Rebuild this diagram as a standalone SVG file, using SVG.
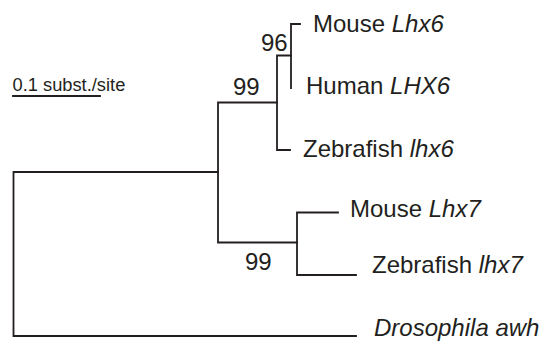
<svg xmlns="http://www.w3.org/2000/svg" width="544" height="346" viewBox="0 0 544 346">
<style>
.br{fill:none;stroke:#231f20;stroke-width:1.8;stroke-linecap:square;stroke-linejoin:miter}
text{font-family:"Liberation Sans",Arial,sans-serif;fill:#231f20;font-size:24px}
.sc{font-size:18.3px}
.i{font-style:italic}
</style>
<rect width="544" height="346" fill="#fff"/>
<g id="connectors">
<path class="br" d="M218,172 H13.5 V336 H356"/>
<path class="br" d="M277,102.5 H218 V242.5 H297"/>
<path class="br" d="M291,55.5 H277 V150 H290"/>
<path class="br" d="M300,24 H291 V88"/>
<path class="br" d="M338,212.5 H297 V275 H356"/>
</g>
<g id="scale">
<line class="br" x1="13" y1="96" x2="100" y2="96"/>
<text class="sc" x="12.5" y="91">0.1 subst./site</text>
</g>
<g id="mouse-lhx6"><text x="313" y="32">Mouse <tspan class="i">Lhx6</tspan></text></g>
<g id="human-lhx6"><text x="306" y="94">Human <tspan class="i">LHX6</tspan></text></g>
<g id="zebrafish-lhx6"><text x="303" y="157">Zebrafish <tspan class="i">lhx6</tspan></text></g>
<g id="mouse-lhx7"><text x="350" y="217">Mouse <tspan class="i">Lhx7</tspan></text></g>
<g id="zebrafish-lhx7"><text x="372" y="273">Zebrafish <tspan class="i">lhx7</tspan></text></g>
<g id="drosophila-awh"><text class="i" x="374" y="336">Drosophila awh</text></g>
<g id="bootstrap-96"><text x="261" y="51">96</text></g>
<g id="bootstrap-99a"><text x="233" y="95">99</text></g>
<g id="bootstrap-99b"><text x="245" y="270">99</text></g>
</svg>
